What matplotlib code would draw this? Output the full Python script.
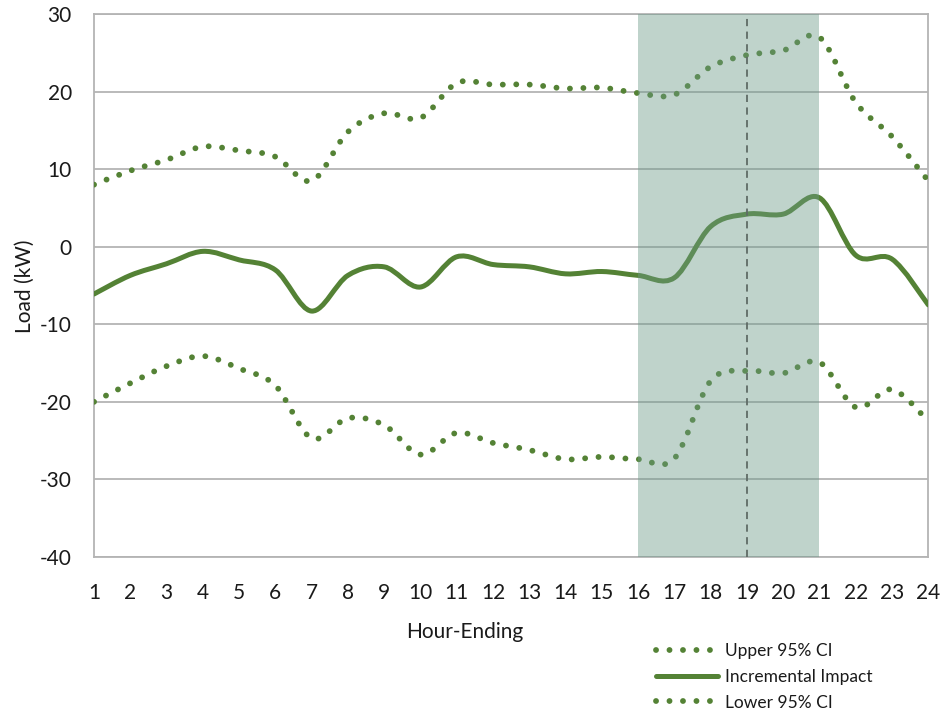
import numpy as np
import matplotlib
matplotlib.use('Agg')
import matplotlib.pyplot as plt
from matplotlib.path import Path
from matplotlib.patches import PathPatch
from matplotlib.lines import Line2D

# hour ending 1..24
hours = list(range(1, 25))
upper_ci = [8.0, 9.8, 11.2, 12.9, 12.4, 11.6, 8.5, 14.8, 17.2, 16.6, 21.1, 20.9,
            20.9, 20.4, 20.5, 19.8, 19.6, 23.2, 24.7, 25.3, 27.0, 18.6, 14.2, 8.5]
impact = [-6.1, -3.7, -2.2, -0.6, -1.7, -3.0, -8.3, -3.7, -2.6, -5.2, -1.3, -2.3,
          -2.6, -3.5, -3.2, -3.7, -4.0, 2.6, 4.2, 4.2, 6.3, -1.1, -1.6, -7.5]
lower_ci = [-20.0, -17.6, -15.4, -14.1, -15.7, -17.9, -24.7, -22.1, -23.0, -26.8, -24.0, -25.3,
            -26.2, -27.4, -27.1, -27.4, -27.3, -17.3, -16.0, -16.3, -14.9, -20.7, -18.4, -22.5]
peak_start, peak_end, peak_hour = 16, 21, 19

green = '#548235'
plt.rcParams['font.family'] = ['Lato', 'DejaVu Sans']
plt.rcParams['text.color'] = '#1a1a1a'
plt.rcParams['axes.unicode_minus'] = False


def smooth_path(xs, ys):
    # excel style smoothed line: bezier through each point
    pts = np.column_stack([xs, ys]).astype(float)
    n = len(pts)
    verts = [pts[0]]
    codes = [Path.MOVETO]
    for i in range(n - 1):
        p0 = pts[max(i - 1, 0)]
        p1 = pts[i]
        p2 = pts[i + 1]
        p3 = pts[min(i + 2, n - 1)]
        verts += [p1 + (p2 - p0) / 6, p2 - (p3 - p1) / 6, p2]
        codes += [Path.CURVE4] * 3
    return Path(verts, codes)


fig = plt.figure(figsize=(9.43, 7.21), dpi=100)
ax = fig.add_axes([0.0997, 0.2275, 0.8847, 0.7531])

dots = (0, (0.01, 2.3))
for ys, ls, w in [(upper_ci, dots, 4.2), (impact, '-', 3.6), (lower_ci, dots, 4.2)]:
    patch = PathPatch(smooth_path(hours, ys), fill=False, edgecolor=green, lw=w,
                      linestyle=ls, capstyle='round', joinstyle='round', zorder=3)
    ax.add_patch(patch)

ax.axvspan(peak_start, peak_end, color=(108 / 255, 154 / 255, 136 / 255), alpha=0.43,
           lw=0, zorder=4)
ax.axvline(peak_hour, color='#5f6b66', lw=1.3, linestyle=(0, (4, 3)), zorder=5)

ax.set_xlim(1, 24)
ax.set_ylim(-40, 30)
ax.set_xticks(hours)
ax.set_yticks(range(-40, 31, 10))
ax.yaxis.grid(True, color='#b4b4b4', lw=1.3, zorder=1)
ax.set_axisbelow(True)
for s in ax.spines.values():
    s.set_color('#b4b4b4')
    s.set_linewidth(1.3)
ax.tick_params(length=0, labelsize=15, colors='#1a1a1a')
ax.tick_params(axis='x', pad=19)
ax.tick_params(axis='y', pad=16)

fig.text(25 / 943, 1 - 286 / 721, 'Load (kW)', rotation=90, ha='center', va='center', fontsize=15)
fig.text(465 / 943, 1 - 632 / 721, 'Hour-Ending', ha='center', va='center', fontsize=15)

handles = [Line2D([], [], color=green, lw=4.2, linestyle=dots, dash_capstyle='round'),
           Line2D([], [], color=green, lw=3.6, solid_capstyle='round'),
           Line2D([], [], color=green, lw=4.2, linestyle=dots, dash_capstyle='round')]
fig.legend(handles, ['Upper 95% CI', 'Incremental Impact', 'Lower 95% CI'],
           loc='center left', bbox_to_anchor=(656 / 943, 1 - 677 / 721), frameon=False,
           fontsize=12.5, handlelength=3.55, handletextpad=0.4, labelspacing=0.55,
           borderpad=0, borderaxespad=0)

fig.savefig('out.png', dpi=100)
